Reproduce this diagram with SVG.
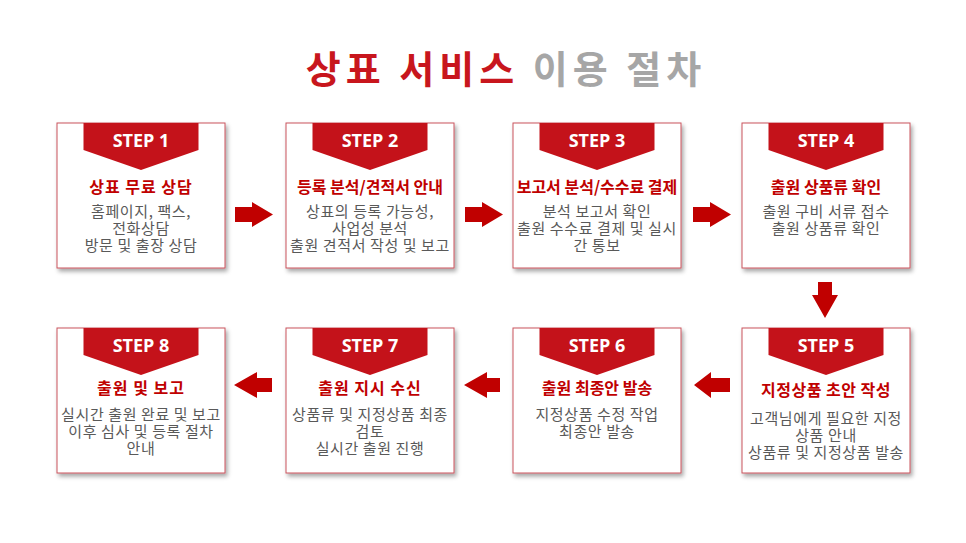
<svg xmlns="http://www.w3.org/2000/svg" width="966" height="543" viewBox="0 0 966 543">
<defs>
<filter id="sh" x="-10%" y="-10%" width="125%" height="125%">
<feDropShadow dx="2" dy="3" stdDeviation="2" flood-color="#000" flood-opacity="0.35"/>
</filter>
<symbol id="ban" overflow="visible">
<path d="M-57.5 0 H57.5 V27 L0 47 L-57.5 27 Z" fill="#c4121a"/>
</symbol>
</defs>
<style>
text{font-family:"Noto Sans CJK KR","Noto Sans",sans-serif;text-anchor:middle}
.box{fill:#fff;stroke:#c9545c;stroke-width:1}
.step{fill:#fff;font-family:"Open Sans","Noto Sans",sans-serif;font-weight:700;font-size:18px}
.tt{fill:#c00000;font-weight:700;font-size:16px}
.bd{fill:#595959;font-size:15px;letter-spacing:0.6px}
.ttl{font-weight:700;font-size:38px;letter-spacing:5px}
.arr{fill:#c00000}
</style>
<rect width="966" height="543" fill="#fff"/>
<text x="506" y="83" class="ttl"><tspan fill="#c8161d">상표 서비스</tspan><tspan fill="#a6a6a6"> 이용 절차</tspan></text>

<g id="step1">
<rect x="57" y="123" width="168" height="145" class="box" filter="url(#sh)"/>
<use href="#ban" x="141" y="123"/>
<text x="141" y="147" class="step">STEP 1</text>
<text x="141" y="193" class="tt" letter-spacing="1">상표 무료 상담</text>
<text x="141" y="217" class="bd">홈페이지, 팩스,</text>
<text x="141" y="234" class="bd">전화상담</text>
<text x="141" y="251" class="bd">방문 및 출장 상담</text>
</g>
<g id="step2">
<rect x="286" y="123" width="168" height="145" class="box" filter="url(#sh)"/>
<use href="#ban" x="370" y="123"/>
<text x="370" y="147" class="step">STEP 2</text>
<text x="370" y="193" class="tt">등록 분석/견적서 안내</text>
<text x="370" y="217" class="bd">상표의 등록 가능성,</text>
<text x="370" y="234" class="bd">사업성 분석</text>
<text x="370" y="251" class="bd">출원 견적서 작성 및 보고</text>
</g>
<g id="step3">
<rect x="513" y="123" width="168" height="145" class="box" filter="url(#sh)"/>
<use href="#ban" x="597" y="123"/>
<text x="597" y="147" class="step">STEP 3</text>
<text x="597" y="193" class="tt">보고서 분석/수수료 결제</text>
<text x="597" y="217" class="bd">분석 보고서 확인</text>
<text x="597" y="234" class="bd">출원 수수료 결제 및 실시</text>
<text x="597" y="251" class="bd">간 통보</text>
</g>
<g id="step4">
<rect x="742" y="123" width="168" height="145" class="box" filter="url(#sh)"/>
<use href="#ban" x="826" y="123"/>
<text x="826" y="147" class="step">STEP 4</text>
<text x="826" y="193" class="tt">출원 상품류 확인</text>
<text x="826" y="217" class="bd">출원 구비 서류 접수</text>
<text x="826" y="234" class="bd">출원 상품류 확인</text>
</g>
<g id="step5">
<rect x="742" y="328" width="168" height="145" class="box" filter="url(#sh)"/>
<use href="#ban" x="826" y="328"/>
<text x="826" y="352" class="step">STEP 5</text>
<text x="826" y="396" class="tt" letter-spacing="0.5">지정상품 초안 작성</text>
<text x="826" y="424" class="bd">고객님에게 필요한 지정</text>
<text x="826" y="441" class="bd">상품 안내</text>
<text x="826" y="458" class="bd">상품류 및 지정상품 발송</text>
</g>
<g id="step6">
<rect x="513" y="328" width="168" height="145" class="box" filter="url(#sh)"/>
<use href="#ban" x="597" y="328"/>
<text x="597" y="352" class="step">STEP 6</text>
<text x="597" y="394" class="tt">출원 최종안 발송</text>
<text x="597" y="420" class="bd">지정상품 수정 작업</text>
<text x="597" y="437" class="bd">최종안 발송</text>
</g>
<g id="step7">
<rect x="286" y="328" width="168" height="145" class="box" filter="url(#sh)"/>
<use href="#ban" x="370" y="328"/>
<text x="370" y="352" class="step">STEP 7</text>
<text x="370" y="394" class="tt" letter-spacing="1">출원 지시 수신</text>
<text x="370" y="420" class="bd">상품류 및 지정상품 최종</text>
<text x="370" y="437" class="bd">검토</text>
<text x="370" y="454" class="bd">실시간 출원 진행</text>
</g>
<g id="step8">
<rect x="57" y="328" width="168" height="145" class="box" filter="url(#sh)"/>
<use href="#ban" x="141" y="328"/>
<text x="141" y="352" class="step">STEP 8</text>
<text x="141" y="394" class="tt" letter-spacing="1">출원 및 보고</text>
<text x="141" y="420" class="bd">실시간 출원 완료 및 보고</text>
<text x="141" y="437" class="bd">이후 심사 및 등록 절차</text>
<text x="141" y="454" class="bd">안내</text>
</g>

<g id="connectors" class="arr">
<path d="M235 207 H252 V202 L273 214.5 L252 227 V222 H235 Z"/>
<path d="M465 207 H482 V202 L503 214.5 L482 227 V222 H465 Z"/>
<path d="M693 207 H710 V202 L731 214.5 L710 227 V222 H693 Z"/>
<path d="M818 282 H832 V295 H838 L825 318 L812 295 H818 Z"/>
<path d="M730 378 H711 V372 L694 385 L711 398 V392 H730 Z"/>
<path d="M500 378 H487 V372 L464 385 L487 398 V392 H500 Z"/>
<path d="M272 378 H257 V372 L234 385 L257 398 V392 H272 Z"/>
</g>
</svg>
